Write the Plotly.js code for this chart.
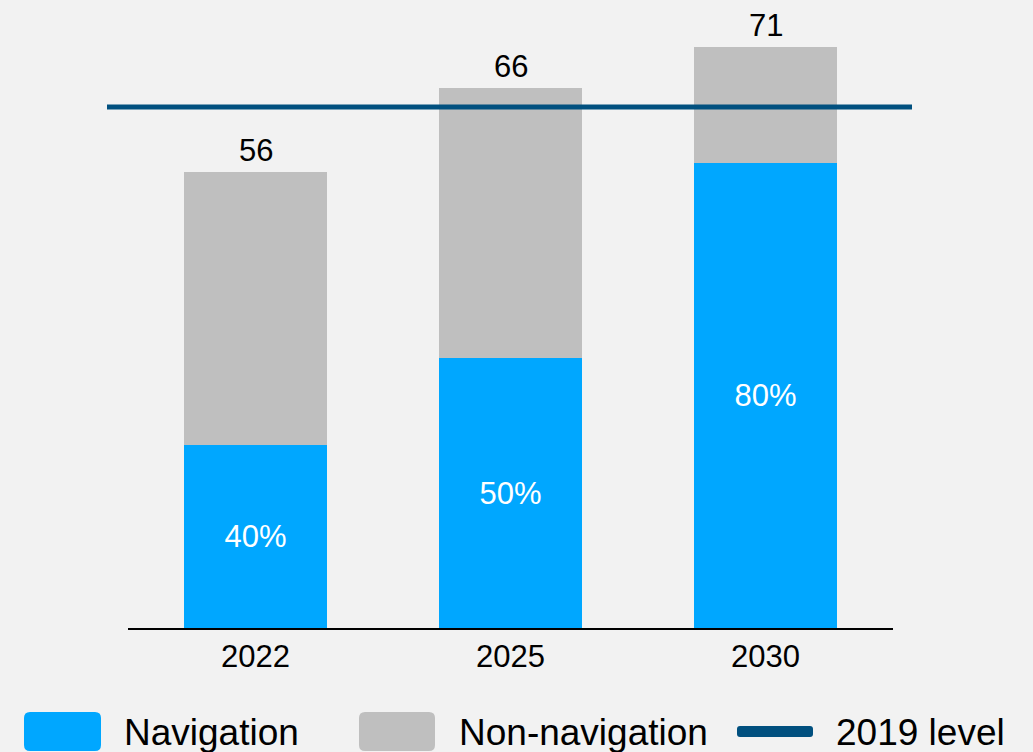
<!DOCTYPE html>
<html>
<head>
<meta charset="utf-8">
<script src="https://cdn.plot.ly/plotly-3.0.1.min.js"></script>
<style>
  html, body { margin: 0; padding: 0; background: #f2f2f2; }
  #chart { width: 1033px; height: 752px; }
</style>
</head>
<body>
<div id="chart"></div>
<script>
// ---- data ----
const years = ['2022', '2025', '2030'];
const navigation = [22.4, 33.0, 56.8];
const nonNavigation = [33.4, 33.0, 14.2];
const totalLabels = ['56', '66', '71'];
const navShareLabels = ['40%', '50%', '80%'];
const level2019 = 63.7;
const legendNames = ['Navigation', 'Non-navigation', '2019 level'];

// ---- styling ----
const BLUE = '#00a7ff';
const GREY = '#bfbfbf';
const NAVY = '#01507f';
const BG = '#f2f2f2';
const FONT = 'Liberation Sans, Arial, sans-serif';

// plot area in pixels (for paper-coordinate helpers)
const PL = 128, PR = 893, PT = 40, PB = 628;
const W = 1033, H = 752;
const px2x = p => (p - PL) / (PR - PL);
const px2y = p => (PB - p) / (PB - PT);

function roundRect(x0, y0, x1, y1, r) {
  const X = px2x, Y = px2y;
  const rx = r / (PR - PL), ry = r / (PB - PT);
  const a = X(x0), b = X(x1), top = Y(y0), bot = Y(y1);
  return `M ${a + rx} ${top} L ${b - rx} ${top} Q ${b} ${top} ${b} ${top - ry} ` +
         `L ${b} ${bot + ry} Q ${b} ${bot} ${b - rx} ${bot} ` +
         `L ${a + rx} ${bot} Q ${a} ${bot} ${a} ${bot + ry} ` +
         `L ${a} ${top - ry} Q ${a} ${top} ${a + rx} ${top} Z`;
}

const traces = [
  {
    type: 'bar', name: legendNames[0], x: years, y: navigation,
    marker: { color: BLUE, line: { width: 0 } },
    width: 0.557,
    text: navShareLabels, textposition: 'inside', insidetextanchor: 'middle',
    textfont: { family: FONT, size: 31, color: '#ffffff' },
    hoverinfo: 'skip', showlegend: false
  },
  {
    type: 'bar', name: legendNames[1], x: years, y: nonNavigation,
    marker: { color: GREY, line: { width: 0 } },
    width: 0.557,
    hoverinfo: 'skip', showlegend: false
  }
];

const annotations = years.map((yr, i) => ({
  x: i, y: navigation[i] + nonNavigation[i], xref: 'x', yref: 'y',
  text: totalLabels[i], showarrow: false, yanchor: 'bottom', yshift: 2,
  font: { family: FONT, size: 31, color: '#000000' }
}));

// custom legend
const legendTextY = px2y(732);
const legendTextX = [122, 457, 834];
legendTextX.forEach((p, i) => {
  annotations.push({
    x: px2x(p), y: legendTextY, xref: 'paper', yref: 'paper',
    xanchor: 'left', yanchor: 'middle', showarrow: false,
    text: legendNames[i], font: { family: FONT, size: 37, color: '#000000' }
  });
});

const shapes = [
  {
    type: 'line', xref: 'paper', yref: 'y',
    x0: px2x(107), x1: px2x(912), y0: level2019, y1: level2019,
    line: { color: NAVY, width: 5 }, layer: 'above'
  },
  { type: 'path', xref: 'paper', yref: 'paper', path: roundRect(24, 712, 101, 751, 6),
    fillcolor: BLUE, line: { width: 0 } },
  { type: 'path', xref: 'paper', yref: 'paper', path: roundRect(359, 712, 435, 751, 6),
    fillcolor: GREY, line: { width: 0 } },
  { type: 'path', xref: 'paper', yref: 'paper', path: roundRect(737, 726, 813, 737, 3),
    fillcolor: NAVY, line: { width: 0 } }
];

const layout = {
  width: W, height: H,
  margin: { l: PL, r: W - PR, t: PT, b: H - PB, pad: 0 },
  paper_bgcolor: BG, plot_bgcolor: BG,
  barmode: 'stack',
  showlegend: false,
  font: { family: FONT, color: '#000000' },
  xaxis: {
    type: 'category', range: [-0.5, 2.5],
    showline: true, linecolor: '#000000', linewidth: 2,
    ticks: '', showgrid: false, zeroline: false,
    tickfont: { family: FONT, size: 31, color: '#000000' },
    fixedrange: true
  },
  yaxis: {
    range: [0, 71.9], showgrid: false, zeroline: false,
    showticklabels: false, ticks: '', showline: false, fixedrange: true
  },
  annotations: annotations,
  shapes: shapes
};

Plotly.newPlot('chart', traces, layout, { displayModeBar: false, staticPlot: true });
</script>
</body>
</html>
